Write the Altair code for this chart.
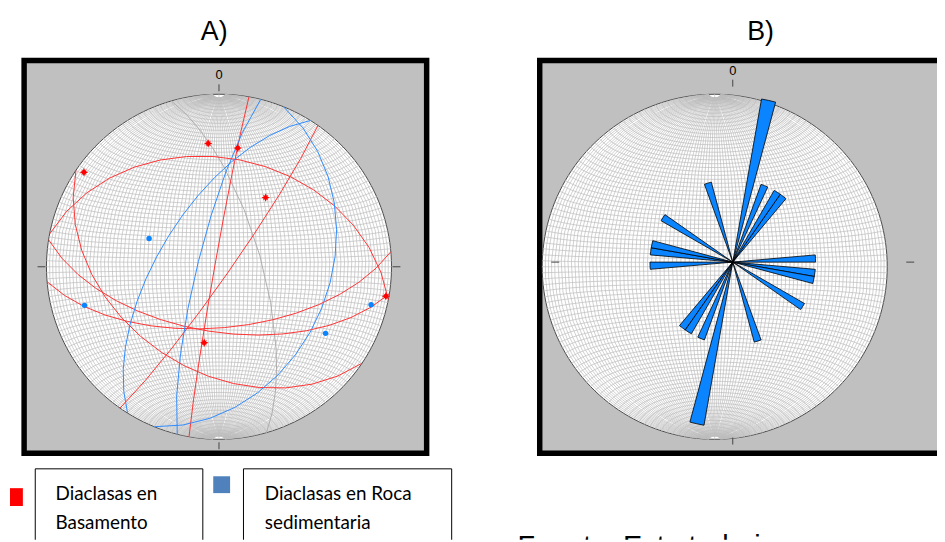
import math
import altair as alt
import pandas as pd

# ---------------- data ----------------
# Joints (dip direction / dip, degrees) - basement (red)
basement_ids = ["B1", "B2", "B3", "B4", "B5", "B6"]
basement_dip_dir = [175, 189, 125, 214, 11, 280]
basement_dip = [61, 59, 85, 40, 37, 88]

# Joints in sedimentary rock (blue)
sed_ids = ["S1", "S2", "S3", "S4"]
sed_dip_dir = [112, 74, 284, 302]
sed_dip = [36, 70, 80, 62]

# plane drawn as a faint grey great circle in panel A
grey_planes = ["S2"]

rose_bin = 5  # degrees per petal
north_label = "0"
titles = ["A)", "B)"]
legend_labels = [["Diaclasas en", "Basamento"], ["Diaclasas en Roca", "sedimentaria"]]
source_text = "Fuente: Este trabajo"

# ---------------- layout / style ----------------
H = 534
WL, WR = 500, 437          # left / right view widths (sum = 937)
R = 174
CXA, CYA = 212.8, 258.7    # net A centre (left view coords)
CXB, CYB = 231.0, 254.0    # net B centre (right view coords)
FONT = "Liberation Sans"
LEG_FONT = "Lato"
RED_LINE = "#FF3333"
BLUE_LINE = "#2E8BFF"
RED_PT = "#FF0000"
BLUE_PT = "#0A84FF"
ROSE_FILL = "#0A84FF"
GRID = "#BDBDBD"


def lonlat(trend, plunge):
    t, p = math.radians(trend), math.radians(plunge)
    n = math.cos(p) * math.cos(t)
    e = math.cos(p) * math.sin(t)
    d = math.sin(p)
    lat = math.degrees(math.asin(max(-1.0, min(1.0, n))))
    lon = math.degrees(math.atan2(e, d))
    return [lon, lat]


def plane_features(ids, dds, dips, keep):
    feats = []
    for pid, dd, dip in zip(ids, dds, dips):
        if not keep(pid):
            continue
        coords = [lonlat(dd - 90, 0), lonlat(dd, dip), lonlat(dd + 90, 0)]
        feats.append({"type": "Feature", "properties": {"id": pid},
                      "geometry": {"type": "LineString", "coordinates": coords}})
    return feats


def poles_df(ids, dds, dips):
    rows = []
    for pid, dd, dip in zip(ids, dds, dips):
        lon, lat = lonlat(dd + 180, 90 - dip)
        rows.append({"id": pid, "lon": lon, "lat": lat})
    return pd.DataFrame(rows)


def proj(cx, cy):
    return dict(type="azimuthalEqualArea", scale=R / math.sqrt(2),
                translate=[cx, cy], clipAngle=90, rotate=[0, 0, 0])


one = pd.DataFrame({"a": [0]})


def txt(s, x, y, size, align="center", baseline="alphabetic", font=FONT, clip=False):
    return alt.Chart(one).mark_text(text=s, fontSize=size, align=align, baseline=baseline,
                                    font=font, color="black", clip=clip).encode(
        x=alt.value(x), y=alt.value(y))


def rect(x, x2, y, y2, fill, stroke=None, sw=0, clip=False):
    kw = dict(fill=fill, clip=clip)
    if stroke:
        kw.update(stroke=stroke, strokeWidth=sw)
    return alt.Chart(one).mark_rect(**kw).encode(
        x=alt.value(x), x2=alt.value(x2), y=alt.value(y), y2=alt.value(y2))


def rule(x, x2, y, y2, color="#444444"):
    return alt.Chart(one).mark_rule(color=color, strokeWidth=1).encode(
        x=alt.value(x), x2=alt.value(x2), y=alt.value(y), y2=alt.value(y2))


def net(cx, cy):
    p = proj(cx, cy)
    sphere = alt.Chart(alt.sphere()).mark_geoshape(fill="white", stroke="#4A4A4A",
                                                   strokeWidth=1).project(**p)
    grat = alt.Chart(alt.graticule(stepMinor=[2, 2], stepMajor=[90, 360],
                                   extentMinor=[[-180, -88], [180, 88]])).mark_geoshape(
        filled=False, stroke=GRID, strokeWidth=0.7).project(**p)
    ticks = [
        rule(cx, cx, cy - R - 10, cy - R - 3),
        rule(cx, cx, cy + R + 3, cy + R + 10),
        rule(cx - R - 9, cx - R - 1, cy, cy),
        rule(cx + R + 1, cx + R + 9, cy, cy),
    ]
    lab = txt(north_label, cx, cy - R - 19, 13, baseline="middle")
    return [sphere, grat] + ticks + [lab]


# ---------------- panel A (left view) ----------------
pA = proj(CXA, CYA)
red_planes = alt.Chart(alt.Data(values=plane_features(
    basement_ids, basement_dip_dir, basement_dip, lambda i: True))).mark_geoshape(
    filled=False, stroke=RED_LINE, strokeWidth=1).project(**pA)
blue_planes = alt.Chart(alt.Data(values=plane_features(
    sed_ids, sed_dip_dir, sed_dip, lambda i: i not in grey_planes))).mark_geoshape(
    filled=False, stroke=BLUE_LINE, strokeWidth=1).project(**pA)
grey_pl = alt.Chart(alt.Data(values=plane_features(
    sed_ids, sed_dip_dir, sed_dip, lambda i: i in grey_planes))).mark_geoshape(
    filled=False, stroke="#ADADAD", strokeWidth=1).project(**pA)

star = ("M0,-1L0.28,-0.42L0.7,-0.7L0.42,-0.28L1,0L0.42,0.28L0.7,0.7L0.28,0.42L0,1"
        "L-0.28,0.42L-0.7,0.7L-0.42,0.28L-1,0L-0.42,-0.28L-0.7,-0.7L-0.28,-0.42Z")
red_poles = alt.Chart(poles_df(basement_ids, basement_dip_dir, basement_dip)).mark_point(
    shape=star, filled=True, color=RED_PT, size=70, opacity=1).encode(
    longitude="lon:Q", latitude="lat:Q").project(**pA)
blue_poles = alt.Chart(poles_df(sed_ids, sed_dip_dir, sed_dip)).mark_point(
    shape="circle", filled=True, color=BLUE_PT, size=30, opacity=1).encode(
    longitude="lon:Q", latitude="lat:Q").project(**pA)

frameA = rect(16.25, 422.25, 50.75, 446.75, "#C0C0C0", "black", 5.5)
legend = [
    rect(2, 15, 482, 500, "#FF0000"),
    rect(27.5, 196.5, 462.5, 600, "white", "black", 1, clip=True),
    rect(207, 224, 470, 487, "#4F81BD"),
    rect(237.5, 447.5, 462.5, 600, "white", "black", 1, clip=True),
    txt(legend_labels[0][0], 48, 494, 19, align="left", font=LEG_FONT),
    txt(legend_labels[0][1], 48, 523.5, 19, align="left", font=LEG_FONT),
    txt(legend_labels[1][0], 259, 494, 19, align="left", font=LEG_FONT),
    txt(legend_labels[1][1], 259, 523.5, 19, align="left", font=LEG_FONT),
]

left = alt.layer(
    frameA, *net(CXA, CYA), grey_pl, red_planes, blue_planes, red_poles, blue_poles,
    txt(titles[0], 208, 30, 27), *legend,
).properties(width=WL, height=H)

# ---------------- panel B : rose of strikes (right view) ----------------
strikes = [(d - 90) % 180 for d in basement_dip_dir + sed_dip_dir]
counts = {}
for s in strikes:
    b = int(s // rose_bin) * rose_bin
    counts[b] = counts.get(b, 0) + 1
rose_rows = []
for b, c in counts.items():
    for off in (0, 180):
        rose_rows.append({"start": b + off, "end": b + off + rose_bin, "count": c})
rose_df = pd.DataFrame(rose_rows)

rose = alt.Chart(rose_df).mark_arc(fill=ROSE_FILL, stroke="black", strokeWidth=0.8).encode(
    theta=alt.Theta("start:Q", scale=alt.Scale(domain=[0, 360], range=[0, 2 * math.pi])),
    theta2="end:Q",
    radius=alt.Radius("count:Q", scale=alt.Scale(type="linear", domain=[0, 2],
                                                 range=[0, R * 0.96], zero=True)),
    x=alt.value(CXB), y=alt.value(CYB),
)
frameB = rect(36.3, 470, 50.75, 446.75, "#C0C0C0", "black", 5.5, clip=True)

right = alt.layer(
    frameB, *net(CXB, CYB), rose,
    txt(titles[1], 259, 30, 27),
    txt(source_text, 14, 550, 29, align="left", clip=True),
).properties(width=WR, height=H)

chart = alt.hconcat(left, right, spacing=0, bounds="flush").properties(
    padding=0, background="white",
).configure_view(strokeWidth=0)

chart.save("out.html", embed_options={"renderer": "svg", "actions": False})
